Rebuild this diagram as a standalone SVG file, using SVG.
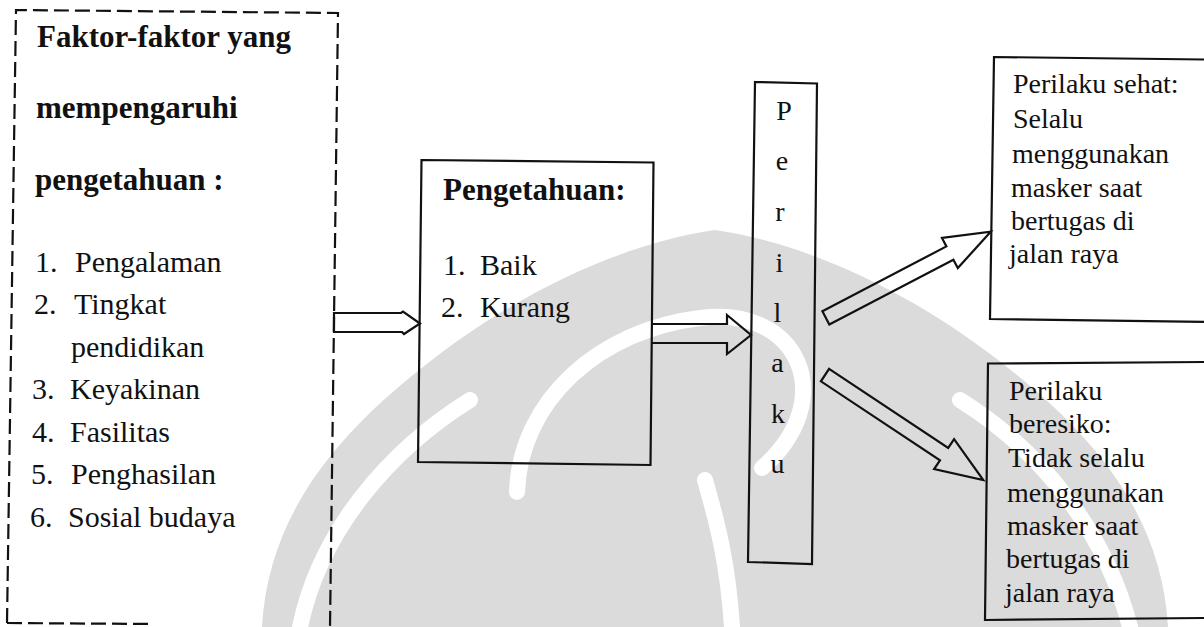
<svg xmlns="http://www.w3.org/2000/svg" width="1204" height="627" viewBox="0 0 1204 627">
  <style>
    text { font-family: "Liberation Serif", "Times New Roman", serif; fill: #111; }
    .h { font-size: 31px; font-weight: bold; }
    .li { font-size: 30px; }
    .col { font-size: 28px; text-anchor: middle; }
    .rb { font-size: 28px; }
    .box { fill: none; stroke: #111; stroke-width: 2.2; stroke-linejoin: miter; }
    .dash { fill: none; stroke: #111; stroke-width: 2.2; stroke-dasharray: 15 6; }
    .arrow { fill: none; stroke: #111; stroke-width: 2.2; stroke-linejoin: miter; }
    .wm { fill: #dbdbdb; }
    .wm-gap { fill: none; stroke: #fff; stroke-width: 16; stroke-linecap: round; }
  </style>

  <rect width="1204" height="627" fill="#fff"/>

  <!-- faint logo in the background -->
  <g id="watermark">
    <path class="wm" d="M262 627 C268 520 330 440 423 367 C500 305 610 245 715 230 C820 245 930 305 1007 367 C1100 440 1162 520 1168 627 Z"/>
    <path class="wm-gap" d="M517 492 C520 400 600 330 700 318 C800 305 840 400 762 468"/>
    <path class="wm-gap" d="M300 627 C320 530 390 450 470 400" stroke-width="12"/>
    <path class="wm-gap" d="M1130 627 C1105 530 1040 450 960 400" stroke-width="12"/>
    <path class="wm-gap" d="M705 480 C718 525 728 565 732 627" stroke-width="12"/>
  </g>

  <!-- influencing factors (dashed frame) -->
  <g id="factors">
    <path class="dash" d="M7 623 L16 10 L338 13 L330 627"/>
    <path class="dash" d="M7 623 L152 624"/>
    <text class="h" x="37" y="47">Faktor-faktor yang</text>
    <text class="h" x="36" y="118">mempengaruhi</text>
    <text class="h" x="35" y="190">pengetahuan :</text>
    <text class="li" x="35" y="272">1.</text><text class="li" x="75" y="272">Pengalaman</text>
    <text class="li" x="34" y="314">2.</text><text class="li" x="74" y="314">Tingkat</text>
    <text class="li" x="71" y="357">pendidikan</text>
    <text class="li" x="32" y="399">3.</text><text class="li" x="70" y="399">Keyakinan</text>
    <text class="li" x="32" y="442">4.</text><text class="li" x="70" y="442">Fasilitas</text>
    <text class="li" x="31" y="484">5.</text><text class="li" x="71" y="484">Penghasilan</text>
    <text class="li" x="30" y="527">6.</text><text class="li" x="68" y="527">Sosial budaya</text>
  </g>

  <!-- knowledge box -->
  <g id="knowledge">
    <path class="box" d="M421.5 160 L653.5 162.5 L650.5 465 L418 462 Z"/>
    <text class="h" x="443" y="200">Pengetahuan:</text>
    <text class="li" x="443" y="275">1.</text><text class="li" x="480" y="275">Baik</text>
    <text class="li" x="441" y="317">2.</text><text class="li" x="480" y="317">Kurang</text>
  </g>

  <!-- behaviour column -->
  <g id="behaviour">
    <path class="box" d="M755 82 L817 83.5 L812 564 L748 562 Z"/>
    <text class="col" x="784" y="120">P</text>
    <text class="col" x="782" y="170">e</text>
    <text class="col" x="780" y="221">r</text>
    <text class="col" x="779.5" y="272">i</text>
    <text class="col" x="777.5" y="322">l</text>
    <text class="col" x="777.5" y="372">a</text>
    <text class="col" x="778" y="423">k</text>
    <text class="col" x="777.5" y="473">u</text>
  </g>

  <!-- healthy behaviour -->
  <g id="healthy">
    <path class="box" d="M1206 59.5 L994 57 L990 319 L1206 322"/>
    <text class="rb" x="1013" y="93">Perilaku sehat:</text>
    <text class="rb" x="1013" y="128">Selalu</text>
    <text class="rb" x="1012" y="163">menggunakan</text>
    <text class="rb" x="1011" y="197">masker saat</text>
    <text class="rb" x="1011" y="230">bertugas di</text>
    <text class="rb" x="1009" y="263">jalan raya</text>
  </g>

  <!-- risky behaviour -->
  <g id="risky">
    <path class="box" d="M1206 362 L988 363.5 L985 620 L1206 618"/>
    <text class="rb" x="1009" y="400">Perilaku</text>
    <text class="rb" x="1009" y="433">beresiko:</text>
    <text class="rb" x="1008" y="467">Tidak selalu</text>
    <text class="rb" x="1007" y="502">menggunakan</text>
    <text class="rb" x="1007" y="535">masker saat</text>
    <text class="rb" x="1006" y="568">bertugas di</text>
    <text class="rb" x="1005" y="602">jalan raya</text>
  </g>

  <!-- block arrows -->
  <g id="connectors">
    <path class="arrow" d="M334 313 L401 313 L403 311.5 L420 323.5 L404 334 L402 332 L334 332 Z"/>
    <path class="arrow" d="M652 324 L727 324 L727 315 L751 335 L727 354 L727 343 L652 343"/>
    <path class="arrow" d="M822.4 311.2 L946.4 246.4 L942 238 L990.7 231.7 L957.8 268.1 L953.4 259.7 L829.3 324.5 Z"/>
    <path class="arrow" d="M829.1 368.8 L948.2 447.9 L954.1 439.1 L983.3 480 L934.1 469.1 L940 460.3 L820.9 381.3 Z"/>
  </g>
</svg>
